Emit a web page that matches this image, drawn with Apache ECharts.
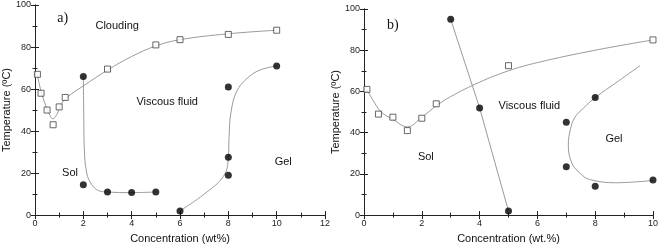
<!DOCTYPE html>
<html><head><meta charset="utf-8">
<script src="https://cdn.jsdelivr.net/npm/echarts@6/dist/echarts.min.js"></script>
<style>html,body{margin:0;padding:0;background:#fff}#c{width:661px;height:249px}</style>
</head><body><div id="c"></div>
<script>
// Panel a)
const aCloudPts = [[0.1,67],[0.25,58],[0.5,50],[0.75,43],[1,51.5],[1.25,56],[3,69.5],[5,81],[6,83.5],[8,86],[10,88]];
const aCloudFit = [[0.1,66.5],[0.25,59],[0.45,52],[0.62,47.5],[0.73,45.8],[0.9,47.8],[1.1,53],[1.35,56.3],[2,61.5],[3,69],[4,75.5],[5,80.5],[6,83.5],[8,86.3],[10,88]];
const aSolPts = [[2,66],[2,14.5],[3,11],[4,10.7],[5,11]];
const aSolFit = [[2,66],[2.02,45],[2.04,32],[2.14,20],[2.35,14.5],[2.62,11.7],[3,11],[4,10.7],[5,11]];
const aGelPts = [[6,2],[8,19],[8,27.5],[8,61],[10,71]];
const aGelFit = [[6,2],[7,10],[7.8,18.5],[8,27],[8.03,37],[8.11,49],[8.35,59],[8.77,65],[9.3,69],[10,71]];
// Panel b)
const bCloudPts = [[0.1,61],[0.5,49],[1,47.5],[1.5,41],[2,47],[2.5,54],[5,72.5],[10,85]];
const bCloudFit = [[0.1,61],[0.3,56],[0.6,50],[1,46.5],[1.5,42.8],[2,47.5],[2.5,53],[3,57.5],[4,64.5],[5,70],[6,74],[8,80],[10,85]];
const bSolPts = [[3,95],[4,52],[5,2]];
const bGelPts = [[7,45],[7,23.5],[8,57],[8,14],[10,17]];
const bGelFit = [[9.55,72.5],[8.8,65],[8,57],[7.6,52],[7.3,47.5],[7.15,42],[7.07,34],[7.2,25],[7.5,20],[7.8,17.3],[8.7,15.7],[10,16.8]];
// Axes
const aXMax = 12, bXMax = 10, yMax = 100, xStep = 2, yStep = 20;
const aXName = 'Concentration (wt%)', bXName = 'Concentration (wt.%)', yName = 'Temperature (ºC)';
// Region labels [text, x, y]
const aLabels = [['Clouding',3.4,90],['Viscous fluid',5.47,54],['Sol',1.45,20],['Gel',10.27,25.5]];
const bLabels = [['Viscous fluid',5.72,53],['Sol',2.14,28],['Gel',8.65,37]];
const panelTags = [['a)',1.15,93.7],['b)',1.0,92.3]];

const FONT = 'Liberation Sans, Arial, sans-serif';
const tickCommon = {
  axisLine: {show: true, lineStyle: {color: '#222', width: 1}},
  axisTick: {show: true, inside: true, length: 4, lineStyle: {color: '#222'}},
  minorTick: {show: true, splitNumber: 2, length: 2.5, lineStyle: {color: '#222'}},
  splitLine: {show: false}
};
function xAxes(gi, max, name){
  return [
    Object.assign({type:'value', gridIndex:gi, min:0, max:max, interval:xStep, position:'bottom',
      name:name, nameLocation:'middle', nameGap:17,
      nameTextStyle:{fontFamily:FONT, fontSize:11, color:'#111'},
      axisLabel:{fontFamily:FONT, fontSize:9, color:'#222', margin:4}}, tickCommon),
    Object.assign({type:'value', gridIndex:gi, min:0, max:max, interval:xStep, position:'top',
      axisLabel:{show:false}}, tickCommon)
  ];
}
function yAxes(gi){
  return [
    Object.assign({type:'value', gridIndex:gi, min:0, max:yMax, interval:yStep, position:'left',
      name:yName, nameLocation:'middle', nameGap:23,
      nameTextStyle:{fontFamily:FONT, fontSize:11, color:'#111'},
      axisLabel:{fontFamily:FONT, fontSize:9, color:'#222', margin:4}}, tickCommon),
    Object.assign({type:'value', gridIndex:gi, min:0, max:yMax, interval:yStep, position:'right',
      axisLabel:{show:false}}, tickCommon)
  ];
}
const lineStyle = {color:'#9a9a9a', width:1};
function fit(data, xi, yi, smooth){
  return {type:'line', xAxisIndex:xi, yAxisIndex:yi, data:data, smooth:smooth, showSymbol:false, symbol:'none',
    lineStyle:lineStyle, silent:true, z:2};
}
function squares(data, xi, yi, clip){
  return {type:'scatter', xAxisIndex:xi, yAxisIndex:yi, data:data, symbol:'rect', symbolSize:6, clip:clip,
    itemStyle:{color:'#fff', borderColor:'#444', borderWidth:1}, z:3};
}
function dots(data, xi, yi, clip){
  return {type:'scatter', xAxisIndex:xi, yAxisIndex:yi, data:data, symbol:'circle', symbolSize:7, clip:clip,
    itemStyle:{color:'#000'}, z:4};
}
const chart = echarts.init(document.getElementById('c'), null, {renderer:'canvas'});
chart.setOption({
  backgroundColor:'#fff',
  animation:false,
  grid:[
    {left:35, right:336, top:5, bottom:33, containLabel:false},
    {left:364, right:7, top:9, bottom:31, containLabel:false}
  ],
  xAxis:[...xAxes(0, aXMax, aXName), ...xAxes(1, bXMax, bXName)],
  yAxis:[...yAxes(0), ...yAxes(1)],
  series:[
    fit(aCloudFit,0,0,0.4), fit(aSolFit,0,0,0.4), fit(aGelFit,0,0,0.4),
    squares(aCloudPts,0,0,false), dots(aSolPts,0,0,false), dots(aGelPts,0,0,false),
    fit(bCloudFit,2,2,0.4), fit(bSolPts,2,2,false), fit(bGelFit,2,2,0.4),
    squares(bCloudPts,2,2,true), dots(bSolPts,2,2,true), dots(bGelPts,2,2,true)
  ]
});
const g = [];
function addLabels(list, gi, font, size){
  list.forEach(function(l){
    const p = chart.convertToPixel({gridIndex:gi}, [l[1], l[2]]);
    g.push({type:'text', x:p[0], y:p[1], z:10,
      style:{text:l[0], font:size+'px '+font, fill:'#111', align:'center', verticalAlign:'middle'}});
  });
}
addLabels(aLabels, 0, FONT, 11);
addLabels(bLabels, 1, FONT, 11);
addLabels([panelTags[0]], 0, 'Liberation Serif, Times New Roman, serif', 14);
addLabels([panelTags[1]], 1, 'Liberation Serif, Times New Roman, serif', 14);
chart.setOption({graphic:g});
</script>
</body></html>
